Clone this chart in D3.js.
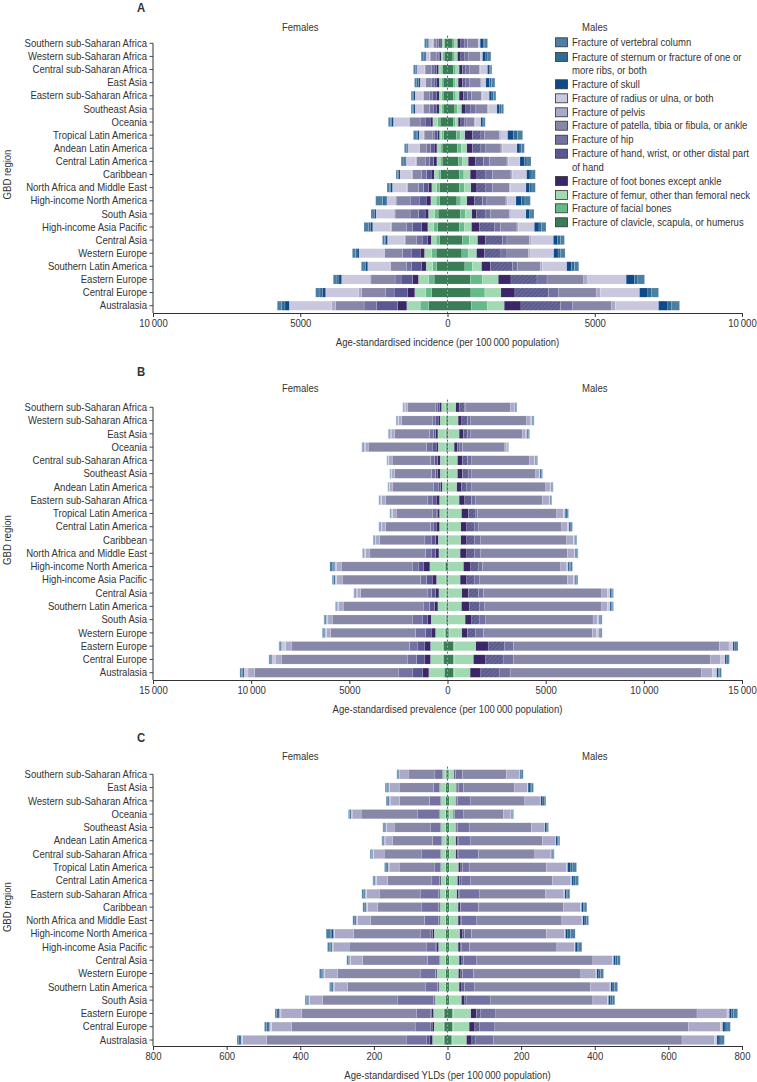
<!DOCTYPE html>
<html><head><meta charset="utf-8">
<script src="https://cdn.jsdelivr.net/npm/d3@7"></script>
<style>
body{margin:0;background:#fff;}
svg text{font-family:"Liberation Sans",Arial,sans-serif;fill:#333;}
</style></head><body>
<svg id="chart" width="757" height="1082"></svg>
<script>
// stack order from the centre outwards
const categories = ["clavicle","facial","femur","foot","hand","hip","patella","pelvis","radius","skull","sternum","vertebral"];
const categoryLabels = [
  "Fracture of clavicle, scapula, or humerus",
  "Fracture of facial bones",
  "Fracture of femur, other than femoral neck",
  "Fracture of foot bones except ankle",
  "Fracture of hand, wrist, or other distal part|of hand",
  "Fracture of hip",
  "Fracture of patella, tibia or fibula, or ankle",
  "Fracture of pelvis",
  "Fracture of radius or ulna, or both",
  "Fracture of skull",
  "Fracture of sternum or fracture of one or|more ribs, or both",
  "Fracture of vertebral column"
];
const categoryColors = ["#3a7c55","#66ba8a","#a1d9b3","#3b2767","#5a5893","#7372a0","#8787a8","#aaa9c8","#c9c8de","#0e4a8a","#2f6b93","#4d7ea3"];

// Panel A: incidence
const regionsA = ["Southern sub-Saharan Africa","Western sub-Saharan Africa","Central sub-Saharan Africa","East Asia","Eastern sub-Saharan Africa","Southeast Asia","Oceania","Tropical Latin America","Andean Latin America","Central Latin America","Caribbean","North Africa and Middle East","High-income North America","South Asia","High-income Asia Pacific","Central Asia","Western Europe","Southern Latin America","Eastern Europe","Central Europe","Australasia"];
const incFemales = [
[102,34,57,57,45,68,113,23,147,45,34,57],
[113,45,57,45,57,45,227,23,125,57,34,68],
[159,57,91,57,91,79,227,23,261,34,23,57],
[147,57,79,79,91,79,204,23,170,57,57,79],
[147,57,79,79,136,125,193,23,261,45,34,57],
[147,57,79,79,125,125,204,23,261,45,34,57],
[249,91,159,91,170,170,352,23,533,57,45,68],
[136,57,79,68,91,68,295,23,147,57,45,91],
[181,68,113,91,125,125,238,23,386,34,23,57],
[181,68,113,113,136,147,295,23,340,57,34,68],
[227,91,136,102,159,159,318,23,397,45,34,57],
[261,113,159,113,170,170,374,23,488,57,45,79],
[272,113,181,159,238,306,476,34,284,57,91,227],
[318,125,204,113,227,284,510,34,612,57,45,68],
[329,136,204,204,306,204,522,23,612,68,68,159],
[272,113,170,113,193,181,397,23,578,57,45,68],
[386,147,249,147,306,295,601,23,850,68,57,102],
[363,136,227,147,340,170,544,23,760,68,57,91],
[454,193,340,204,386,204,817,34,964,91,68,125],
[533,215,363,238,465,284,817,113,1111,113,79,147],
[646,283,453,317,703,431,964,136,1440,147,113,147]];
const incMales = [
[181,68,91,113,113,113,363,23,45,102,57,91],
[181,68,91,113,136,113,408,23,57,113,68,102],
[204,79,113,113,113,113,340,34,249,57,34,57],
[193,68,102,147,113,113,397,34,136,125,68,113],
[204,79,113,147,136,136,340,34,227,91,57,79],
[249,91,136,147,170,170,397,34,284,91,57,79],
[193,68,102,91,113,91,249,34,193,68,34,45],
[306,125,159,261,284,113,510,57,227,204,136,170],
[340,136,181,193,284,170,510,57,488,102,57,91],
[363,147,193,238,284,193,601,45,397,147,91,136],
[397,159,215,227,306,227,624,45,488,113,68,113],
[408,159,227,204,306,227,567,45,522,125,79,113],
[318,136,204,249,284,147,646,57,284,193,113,181],
[431,170,227,147,329,147,646,57,510,113,57,102],
[397,170,249,261,510,204,567,57,533,159,91,147],
[510,227,284,261,590,147,760,57,760,147,91,136],
[488,215,284,261,567,204,726,57,805,147,91,147],
[590,249,318,295,760,170,771,68,828,159,102,147],
[771,420,533,431,885,340,1247,136,1304,284,113,227],
[794,476,544,476,1134,352,1270,147,1327,284,113,249],
[816,544,567,567,1338,420,1304,147,1463,317,113,283]];
const ticksA = [-10000,-5000,0,5000,10000];

// Panel B: prevalence
const regionsB = ["Southern sub-Saharan Africa","Western sub-Saharan Africa","East Asia","Oceania","Central sub-Saharan Africa","Southeast Asia","Andean Latin America","Eastern sub-Saharan Africa","Tropical Latin America","Central Latin America","Caribbean","North Africa and Middle East","High-income North America","High-income Asia Pacific","Central Asia","Southern Latin America","South Asia","Western Europe","Eastern Europe","Central Europe","Australasia"];
const prevFemales = [
[68,34,204,85,102,102,1442,119,51,17,17,34],
[68,34,272,102,119,153,1595,136,68,17,17,34],
[68,34,390,119,102,204,1782,170,51,34,17,34],
[68,34,373,102,204,288,2970,153,85,34,17,34],
[51,34,288,136,153,204,1952,170,51,17,17,17],
[51,34,288,119,119,204,1884,136,51,17,17,17],
[51,34,187,85,85,255,2087,153,51,17,17,17],
[51,34,322,170,170,255,2155,204,68,34,17,17],
[51,34,322,85,85,170,1867,187,68,34,17,17],
[51,34,322,170,119,170,2291,187,68,34,17,34],
[51,34,390,136,221,322,2308,187,68,34,17,17],
[51,34,356,170,221,288,2834,221,85,34,17,17],
[85,51,764,305,288,305,3615,255,85,51,68,119],
[68,34,458,221,288,305,3988,288,85,51,34,51],
[51,34,356,170,204,221,3394,170,85,34,17,34],
[51,34,407,170,255,322,4073,221,85,34,17,34],
[68,34,730,170,288,509,4073,221,85,51,34,34],
[85,51,475,221,288,509,4327,204,102,51,34,34],
[187,51,628,288,356,424,6024,288,221,51,34,34],
[187,51,628,288,424,475,6415,305,187,51,34,51],
[153,68,730,305,509,713,7348,339,204,68,51,85]];
const prevMales = [
[51,17,356,170,255,85,2257,204,34,34,34,34],
[51,17,475,187,288,170,2851,204,68,34,34,34],
[51,17,526,221,204,170,2630,170,51,51,34,51],
[51,17,272,170,119,136,2155,102,34,17,17,17],
[51,17,441,255,255,221,2919,255,68,34,34,34],
[51,17,441,255,288,187,3258,170,51,51,34,34],
[51,17,407,238,272,255,3767,221,68,34,34,17],
[51,17,526,288,339,221,3394,339,51,34,34,17],
[51,17,645,356,339,119,4039,339,68,51,68,68],
[51,17,611,305,373,204,4259,288,85,51,51,68],
[51,17,611,305,407,305,4378,339,68,34,34,34],
[51,17,577,339,407,305,4412,339,68,51,51,34],
[51,17,747,373,373,221,3988,305,68,68,68,85],
[51,17,577,339,373,255,4497,305,68,51,51,51],
[51,17,662,339,509,255,6024,288,136,68,51,51],
[51,17,645,390,543,255,5957,288,136,68,51,51],
[51,17,832,339,373,339,5464,221,102,51,34,51],
[68,17,645,288,424,390,5549,221,136,51,34,51],
[305,34,1103,628,848,441,10487,492,204,85,68,102],
[305,34,984,628,882,526,10046,509,221,85,68,68],
[305,34,815,543,933,560,9758,543,221,85,68,85]];
const ticksB = [-15000,-10000,-5000,0,5000,10000,15000];

// Panel C: YLDs
const regionsC = ["Southern sub-Saharan Africa","East Asia","Western sub-Saharan Africa","Oceania","Southeast Asia","Andean Latin America","Central sub-Saharan Africa","Tropical Latin America","Central Latin America","Eastern sub-Saharan Africa","Caribbean","North Africa and Middle East","High-income North America","High-income Asia Pacific","Central Asia","Western Europe","Southern Latin America","South Asia","Eastern Europe","Central Europe","Australasia"];
const yldFemales = [
[3.6,0.9,7.2,1.8,0.9,19.9,72.5,22.6,1.8,1.8,1.8,2.7],
[4.5,0.9,14.5,0.9,0.9,16.3,93.3,25.4,3.6,2.7,2.7,3.6],
[4.5,0.9,11.8,1.8,0.9,29.0,81.5,25.4,2.7,2.7,2.7,2.7],
[4.5,0.9,14.5,1.8,0.9,58.0,154.0,24.5,2.7,2.7,1.8,2.7],
[4.5,0.9,11.8,1.8,0.9,27.2,97.8,20.8,2.7,2.7,1.8,2.7],
[3.6,0.9,10.0,1.8,0.9,23.6,107.8,20.8,2.7,1.8,1.8,2.7],
[4.5,0.9,11.8,1.8,0.9,51.6,100.6,29.0,2.7,1.8,1.8,2.7],
[4.5,0.9,11.8,1.8,0.9,16.3,95.1,27.2,3.6,2.7,2.7,3.6],
[4.5,0.9,12.7,2.7,0.9,20.8,120.5,29.9,3.6,1.8,1.8,2.7],
[4.5,0.9,14.5,2.7,1.8,49.8,111.4,34.4,3.6,2.7,2.7,3.6],
[4.5,0.9,14.5,2.7,1.8,45.3,120.5,27.2,3.6,2.7,2.7,3.6],
[4.5,0.9,14.5,2.7,1.8,38.1,145.9,36.2,3.6,2.7,2.7,3.6],
[4.5,1.8,29.9,4.5,4.5,29.0,181.2,50.7,3.6,4.5,4.5,10.9],
[4.5,0.9,19.0,4.5,2.7,24.5,211.1,43.5,3.6,3.6,3.6,4.5],
[4.5,0.9,14.5,1.8,0.9,31.7,176.7,31.7,3.6,1.8,1.8,3.6],
[4.5,1.8,22.7,2.7,1.8,40.8,224.7,34.4,3.6,2.7,3.6,4.5],
[4.5,0.9,18.1,2.7,0.9,33.5,211.1,36.2,3.6,2.7,2.7,3.6],
[4.5,1.8,27.2,2.7,1.8,96.9,204.8,34.4,3.6,2.7,2.7,3.6],
[9.1,1.8,27.2,4.5,2.7,38.1,312.6,56.2,4.5,3.6,3.6,4.5],
[9.1,1.8,25.4,5.4,3.6,42.6,335.2,54.4,6.3,3.6,4.5,5.4],
[9.1,1.8,29.9,7.2,8.2,56.2,378.7,65.2,4.5,2.7,3.6,4.5]];
const yldMales = [
[3.6,0.9,13.6,2.7,1.8,18.1,119.6,34.4,1.8,2.7,2.7,3.6],
[4.5,0.9,19.0,3.6,1.8,13.6,137.7,36.2,1.8,5.4,4.5,4.5],
[4.5,0.9,17.2,2.7,1.8,34.4,148.6,41.7,1.8,5.4,3.6,4.5],
[3.6,0.9,10.9,1.8,1.8,23.6,109.6,19.9,1.8,1.8,1.8,1.8],
[4.5,0.9,17.2,2.7,1.8,31.7,169.4,34.4,1.8,3.6,2.7,3.6],
[4.5,0.9,17.2,3.6,2.7,32.6,196.6,34.4,1.8,3.6,3.6,3.6],
[4.5,0.9,17.2,3.6,2.7,55.3,153.1,43.5,1.8,2.7,1.8,2.7],
[4.5,0.9,24.5,6.3,4.5,18.1,210.2,54.4,2.7,7.2,7.2,10.0],
[4.5,0.9,21.7,5.4,4.5,26.3,222.0,49.8,2.7,5.4,5.4,7.2],
[4.5,0.9,19.9,4.5,1.8,56.2,177.6,50.7,2.7,4.5,3.6,5.4],
[4.5,0.9,23.6,5.4,1.8,48.0,231.0,46.2,2.7,5.4,3.6,5.4],
[4.5,0.9,23.6,5.4,4.5,40.8,231.0,54.4,2.7,5.4,4.5,5.4],
[4.5,0.9,28.1,6.3,6.3,19.0,203.9,48.9,2.7,6.3,7.2,12.7],
[4.5,0.9,23.6,5.4,4.5,20.8,237.4,47.1,2.7,5.4,4.5,8.2],
[4.5,0.9,26.3,7.2,4.5,36.2,315.3,53.5,2.7,5.4,4.5,8.2],
[4.5,0.9,24.5,6.3,4.5,29.9,291.7,40.8,2.7,5.4,4.5,8.2],
[4.5,0.9,26.3,7.2,7.2,26.3,315.3,53.5,2.7,5.4,4.5,8.2],
[4.5,1.8,31.7,7.2,5.4,65.2,279.0,39.9,2.7,5.4,4.5,7.2],
[13.6,2.7,47.1,15.4,11.8,40.8,546.3,81.5,6.3,6.3,5.4,10.9],
[13.6,2.7,42.6,15.4,11.8,42.6,525.5,87.0,6.3,6.3,5.4,9.1],
[11.8,1.8,38.1,14.5,10.9,47.1,512.8,87.9,7.2,5.4,5.4,9.1]];
const ticksC = [-800,-600,-400,-200,0,200,400,600,800];

const svg = d3.select("#chart");
const FS = 10.5;
const SX = 0.91; // horizontal compression to mimic the condensed journal face

function addText(parent, x, y, str, anchor, extra) {
  const t = parent.append("text")
    .attr("transform", `translate(${x},${y}) scale(${SX},1)`)
    .attr("text-anchor", anchor || "start")
    .attr("font-size", FS)
    .text(str);
  if (extra) extra(t);
  return t;
}

// hatch for male hand segment
const defs = svg.append("defs");
const pat = defs.append("pattern").attr("id","hatch").attr("patternUnits","userSpaceOnUse")
  .attr("width",3).attr("height",3).attr("patternTransform","rotate(45)");
pat.append("rect").attr("width",3).attr("height",3).attr("fill","#686898");
pat.append("line").attr("x1",0).attr("y1",0).attr("x2",0).attr("y2",3).attr("stroke","#48487a").attr("stroke-width",1.2);

const fmt = v => { const a = Math.abs(v); return a >= 10000 ? String(a).replace(/(\d)(?=(\d{3})+$)/g, "$1\u2009") : String(a); };

const panels = [
  {letter:"A", regions:regionsA, f:incFemales, m:incMales, ticks:ticksA, max:10000, letterY:12, sexY:31, top:43.3, bottom:305.7, axisY:313, title:"Age-standardised incidence (per 100\u2009000 population)", legend:true},
  {letter:"B", regions:regionsB, f:prevFemales, m:prevMales, ticks:ticksB, max:15000, letterY:376, sexY:392, top:407.3, bottom:672.7, axisY:680, title:"Age-standardised prevalence (per 100\u2009000 population)"},
  {letter:"C", regions:regionsC, f:yldFemales, m:yldMales, ticks:ticksC, max:800, letterY:742, sexY:760, top:774.3, bottom:1040, axisY:1046, title:"Age-standardised YLDs (per 100\u2009000 population)"}
];

const X0 = 153, X1 = 742;

panels.forEach(p => {
  const g = svg.append("g");
  const n = p.regions.length;
  const step = (p.bottom - p.top) / (n - 1);
  const y = d3.scaleBand().domain(p.regions).range([p.top - step/2, p.bottom + step/2]).paddingInner(0.3).paddingOuter(0.15);
  const x = d3.scaleLinear().domain([-p.max, p.max]).range([X0, X1]);

  // letter and sex labels
  addText(g, 141, p.letterY, p.letter, "middle", t => t.attr("font-size",12.5).attr("font-weight","bold"));
  addText(g, (X0 + x(0))/2, p.sexY, "Females", "middle");
  addText(g, (X1 + x(0))/2, p.sexY, "Males", "middle");

  // bars
  const drawSide = (data, sign, male) => {
    data.forEach((row, i) => {
      let cum = 0;
      row.forEach((v, k) => {
        const a = cum, b = cum + v; cum = b;
        const xa = x(sign*a), xb = x(sign*b);
        g.append("rect")
          .attr("x", Math.min(xa,xb)).attr("y", y(p.regions[i]))
          .attr("width", Math.abs(xb-xa)).attr("height", y.bandwidth())
          .attr("fill", (male && categories[k]==="hand") ? "url(#hatch)" : categoryColors[k])
          .attr("stroke","rgba(255,255,255,0.35)").attr("stroke-width",0.4);
      });
    });
  };
  drawSide(p.f, -1, false);
  drawSide(p.m, 1, true);

  // dashed zero line
  g.append("line").attr("x1",x(0)).attr("x2",x(0)).attr("y1",y(p.regions[0]) - 3).attr("y2",p.axisY)
    .attr("stroke","#555").attr("stroke-width",0.9).attr("stroke-dasharray","2,2");

  // y axis
  const yl = g.append("g");
  yl.append("line").attr("x1",X0).attr("x2",X0).attr("y1",y(p.regions[0]) + y.bandwidth()/2).attr("y2",p.axisY).attr("stroke","#333").attr("stroke-width",1);
  p.regions.forEach(r => {
    const cy = y(r) + y.bandwidth()/2;
    yl.append("line").attr("x1",X0-3.5).attr("x2",X0).attr("y1",cy).attr("y2",cy).attr("stroke","#333").attr("stroke-width",0.9);
    addText(yl, X0-6, cy, r, "end", t => t.attr("dy","0.35em"));
  });
  g.append("text").attr("transform",`translate(11,${(p.top+p.bottom)/2}) rotate(-90) scale(${SX},1)`).attr("text-anchor","middle").attr("font-size",FS).text("GBD region");

  // x axis
  const xa = g.append("g").attr("transform",`translate(0,${p.axisY})`)
    .call(d3.axisBottom(x).tickValues(p.ticks).tickFormat(fmt).tickSize(4).tickSizeOuter(0).tickPadding(3));
  xa.select(".domain").attr("stroke","#333").attr("stroke-width",1.1);
  xa.selectAll(".tick line").attr("stroke","#333");
  xa.selectAll(".tick text").attr("font-size",FS).attr("fill","#333")
    .attr("transform",`scale(${SX},1)`)
    .style("font-family",'"Liberation Sans",Arial,sans-serif');
  addText(g, x(0), p.axisY + 33, p.title, "middle");

  // legend
  if (p.legend) {
    const lg = g.append("g");
    const rowsY = [42.3, 57, 84.3, 98.3, 112.3, 125.7, 139.7, 153.7, 181, 195, 208.3, 222.3];
    for (let j = 0; j < 12; j++) {
      const k = 11 - j;
      const ly = rowsY[j];
      lg.append("rect").attr("x",555.5).attr("y",ly-4.5).attr("width",12).attr("height",9)
        .attr("fill",categoryColors[k]).attr("stroke","#333").attr("stroke-width",0.8);
      const lines = categoryLabels[k].split("|");
      lines.forEach((t, li) => {
        addText(lg, 572, ly + li*13.5, t, "start", tt => tt.attr("dy","0.35em"));
      });
    }
  }
});
</script></body></html>
